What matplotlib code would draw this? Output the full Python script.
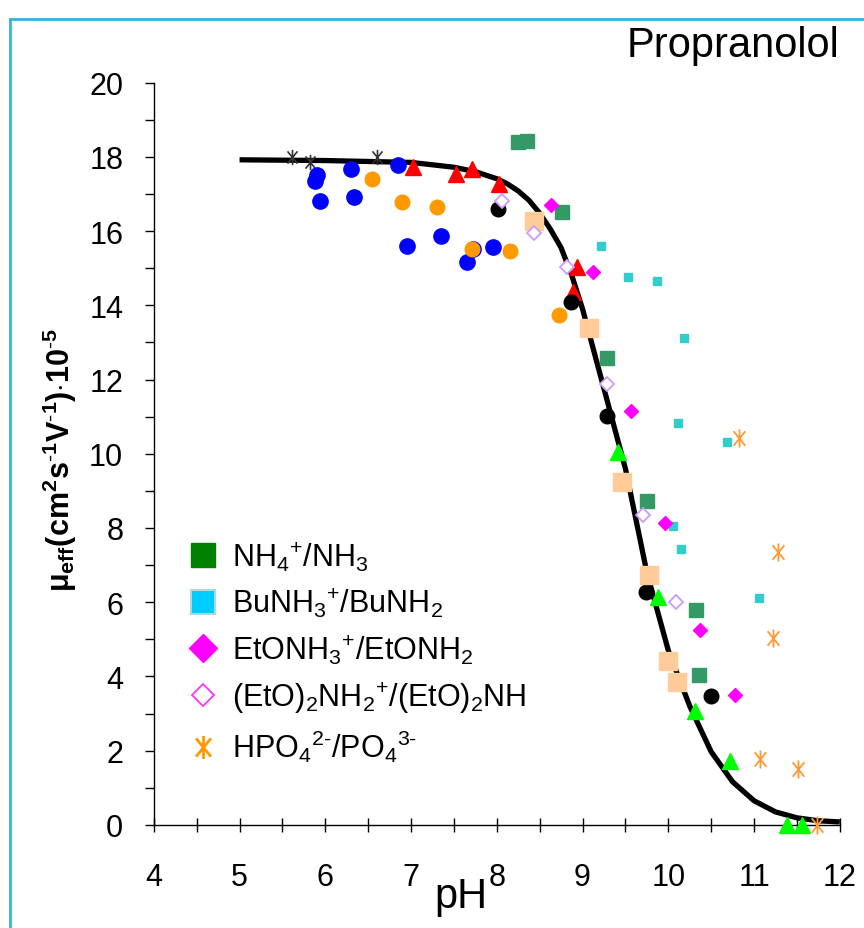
import matplotlib
matplotlib.use('Agg')
import matplotlib.pyplot as plt
from matplotlib.lines import Line2D
from matplotlib.path import Path

plt.rcParams['font.family'] = ['Liberation Sans', 'DejaVu Sans']
plt.rcParams['mathtext.fontset'] = 'custom'
plt.rcParams['mathtext.rm'] = 'Liberation Sans'
plt.rcParams['mathtext.it'] = 'Liberation Sans'
plt.rcParams['mathtext.bf'] = 'Liberation Sans:bold'

# ---- data (pH, mobility) ----
star_x = [5.61, 5.82, 6.60]
star_y = [18.0, 17.87, 18.0]

blue_x = [5.90, 5.88, 5.94, 6.30, 6.34, 6.85, 6.95, 7.35, 7.65, 7.72, 7.95]
blue_y = [17.5, 17.35, 16.8, 17.68, 16.93, 17.77, 15.6, 15.88, 15.17, 15.52, 15.58]

orange_x = [6.55, 6.89, 7.30, 7.71, 8.15, 8.72]
orange_y = [17.41, 16.79, 16.66, 15.52, 15.47, 13.75]

red_x = [7.02, 7.52, 7.71, 8.02, 8.89, 8.93]
red_y = [17.72, 17.55, 17.66, 17.28, 14.37, 15.04]

black_x = [8.01, 8.87, 9.29, 9.74, 10.50]
black_y = [16.6, 14.1, 11.02, 6.28, 3.48]

nh3_x = [8.25, 8.35, 8.76, 9.29, 9.75, 10.32, 10.36]
nh3_y = [18.4, 18.42, 16.52, 12.59, 8.73, 5.80, 4.04]

bu_x = [9.22, 9.53, 9.87, 10.18, 10.11, 10.68, 10.05, 10.15, 11.06]
bu_y = [15.6, 14.77, 14.66, 13.13, 10.84, 10.32, 8.06, 7.44, 6.12]

eto_x = [8.63, 9.12, 9.56, 9.96, 10.37, 10.78]
eto_y = [16.71, 14.90, 11.16, 8.14, 5.26, 3.50]

deto_x = [8.06, 8.43, 8.82, 9.29, 9.70, 10.09]
deto_y = [16.82, 15.96, 15.04, 11.89, 8.36, 6.01]

peach_x = [8.43, 9.08, 9.46, 9.77, 10.00, 10.10]
peach_y = [16.28, 13.40, 9.25, 6.74, 4.42, 3.85]

lime_x = [9.41, 9.88, 10.31, 10.72, 11.38, 11.56]
lime_y = [10.05, 6.15, 3.07, 1.72, 0.0, 0.0]

hpo_x = [10.83, 11.28, 11.22, 11.07, 11.51, 11.73]
hpo_y = [10.43, 7.36, 5.04, 1.78, 1.51, 0.0]

fit_x = [5.0, 6.0, 7.0, 7.5, 7.75, 8.0, 8.125, 8.25, 8.375, 8.5, 8.625, 8.75, 8.875,
         9.0, 9.25, 9.5, 9.75, 10.0, 10.25, 10.5, 10.75, 11.0, 11.25, 11.5, 11.75, 12.0]
fit_y = [17.92, 17.9, 17.85, 17.72, 17.6, 17.41, 17.27, 17.08, 16.83, 16.48, 16.05, 15.55, 14.8,
         13.9, 11.75, 9.6, 6.8, 4.7, 3.2, 1.97, 1.16, 0.65, 0.35, 0.19, 0.11, 0.08]

legend_labels = [r'NH$_4$$^{+}$/NH$_3$',
                 r'BuNH$_3$$^{+}$/BuNH$_2$',
                 r'EtONH$_3$$^{+}$/EtONH$_2$',
                 r'(EtO)$_2$NH$_2$$^{+}$/(EtO)$_2$NH',
                 r'HPO$_4$$^{2\text{-}}$/PO$_4$$^{3\text{-}}$']

# asterisk marker: vertical bar plus steep X
ast = Path([(0, -1), (0, 1), (-0.65, -0.8), (0.65, 0.8), (-0.65, 0.8), (0.65, -0.8)],
           [Path.MOVETO, Path.LINETO, Path.MOVETO, Path.LINETO, Path.MOVETO, Path.LINETO])

fig = plt.figure(figsize=(8.64, 9.29), dpi=100)
ax = fig.add_axes([0.178, 0.111, 0.794, 0.799])

ax.plot(fit_x, fit_y, color='black', lw=3.8, zorder=2, solid_capstyle='butt')

kw = dict(linestyle='none', clip_on=False, zorder=3)
ax.plot(star_x, star_y, marker=ast, ms=11, mec='#333333', mew=1.2, **kw)
ax.plot(blue_x, blue_y, marker='o', ms=11, mfc='#0000ff', mec='#0000ff', **kw)
ax.plot(orange_x, orange_y, marker='o', ms=10.5, mfc='#ff9900', mec='#ff9900', **kw)
ax.plot(red_x, red_y, marker='^', ms=11, mfc='#ff0000', mec='#ff0000', **kw)
ax.plot(black_x, black_y, marker='o', ms=10.5, mfc='black', mec='black', **kw)
ax.plot(peach_x, peach_y, marker='s', ms=12.5, mfc='#ffcc99', mec='#ffcc99', **kw)
ax.plot(nh3_x, nh3_y, marker='s', ms=10, mfc='#339966', mec='#339966', **kw)
ax.plot(bu_x, bu_y, marker='s', ms=5.5, mfc='#33cccc', mec='#33cccc', **kw)
ax.plot(eto_x, eto_y, marker='D', ms=7.5, mfc='#ff00ff', mec='#ff00ff', **kw)
ax.plot(deto_x, deto_y, marker='D', ms=7.5, mfc='white', mec='#cc99ff', mew=1.3, **kw)
ax.plot(lime_x, lime_y, marker='^', ms=11, mfc='#00ff00', mec='#00ff00', **kw)
ax.plot(hpo_x, hpo_y, marker=ast, ms=13, mec='#ff9933', mew=1.3, **kw)

ax.set_xlim(4, 12)
ax.set_ylim(0, 20)
ax.spines['top'].set_visible(False)
ax.spines['right'].set_visible(False)
ax.spines['left'].set_linewidth(1)
ax.spines['bottom'].set_linewidth(1)

ax.set_xticks(range(4, 13))
ax.set_xticks([x + 0.5 for x in range(4, 12)], minor=True)
ax.set_yticks(range(0, 21, 2))
ax.set_yticks(range(1, 20, 2), minor=True)
ax.tick_params(axis='x', which='both', direction='inout', length=10, width=1,
               labelsize=22, pad=22)
ax.tick_params(axis='y', which='both', direction='out', length=6.5, width=1,
               labelsize=22, pad=15.5)

handles = [
    Line2D([], [], ls='none', marker='s', ms=17, mfc='#007f00', mec='#007f00'),
    Line2D([], [], ls='none', marker='s', ms=17, mfc='#00ccff', mec='#a8dcdc', mew=1.5),
    Line2D([], [], ls='none', marker='D', ms=14.5, mfc='#ff00ff', mec='#ff00ff'),
    Line2D([], [], ls='none', marker='D', ms=11, mfc='white', mec='#ff33ff', mew=1.3),
    Line2D([], [], ls='none', marker=ast, ms=16.5, mec='#ff9900', mew=2),
]
ax.legend(handles, legend_labels, loc='upper left', bbox_to_anchor=(0.05, 0.385),
          frameon=False, fontsize=22, handlelength=1.0, handletextpad=0.44,
          labelspacing=0.43, borderpad=0, borderaxespad=0)

fig.text(0.069, 0.505,
         r'$\mathbf{\mu_{eff}(cm^{2}s^{\text{-}1}V^{\text{-}1}){\cdot}10^{\text{-}5}}$',
         rotation=90, ha='center', va='center', fontsize=22)
fig.text(0.534, 0.0226, 'pH', ha='center', va='baseline', fontsize=30)
fig.text(0.972, 0.972, 'Propranolol', ha='right', va='top', fontsize=30)

# frame lines of the original slide
border = '#33b5d5'
fig.add_artist(Line2D([0.012, 0.012], [0.0, 0.978], color=border, lw=2,
                      transform=fig.transFigure))
fig.add_artist(Line2D([0.012, 1.0], [0.978, 0.978], color=border, lw=2,
                      transform=fig.transFigure))

fig.savefig('out.png', dpi=100)
